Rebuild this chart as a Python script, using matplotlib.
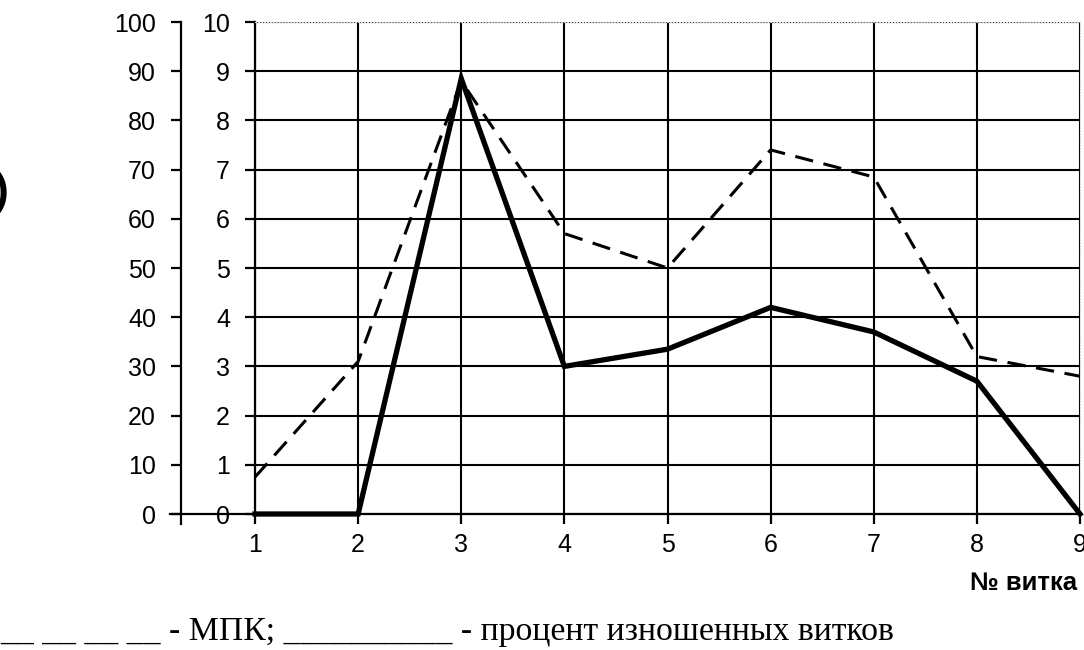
import matplotlib
matplotlib.use("Agg")
import matplotlib.pyplot as plt

coil = [1, 2, 3, 4, 5, 6, 7, 8, 9]
mpk = [0.75, 3.1, 8.8, 5.7, 5.0, 7.4, 6.85, 3.2, 2.8]
worn_pct = [0, 0, 88.5, 30, 33.5, 42, 37, 27, 0]
inner_ticks = list(range(0, 11))
outer_ticks = list(range(0, 101, 10))
xlabel = "№ витка"
legend_text = "__ __ __ __ - МПК; __________ - процент изношенных витков"

W, H = 1084, 650
PX = 72 / 100  # points per pixel
fig = plt.figure(figsize=(W / 100, H / 100), dpi=100)
L, R, T, B = 255, 1080, 22, 514
ax = fig.add_axes([L / W, 1 - B / H, (R - L) / W, (B - T) / H])

sans = "Liberation Sans"
ax.set_xlim(1, 9)
ax.set_ylim(0, 10)
ax.set_xticks(coil)
ax.set_yticks(inner_ticks)
ax.tick_params(axis="both", direction="out", length=10 * PX, width=1.6, colors="black",
               labelsize=18, pad=9 * PX)
ax.tick_params(axis="y", pad=15 * PX)
for lab in ax.get_xticklabels() + ax.get_yticklabels():
    lab.set_fontfamily(sans)

# grid
ax.grid(True, color="black", linewidth=1.5)
ax.set_axisbelow(True)
for s in ["top", "right"]:
    ax.spines[s].set_color("#d8d8d8")
    ax.spines[s].set_linestyle(":")
    ax.spines[s].set_linewidth(0.8)
for s in ["left", "bottom"]:
    ax.spines[s].set_linewidth(1.6)

# outer axis (percent)
ax2 = ax.twinx()
ax2.set_ylim(0, 100)
ax2.set_yticks(outer_ticks)
ax2.yaxis.set_ticks_position("left")
ax2.yaxis.set_label_position("left")
ax2.spines["left"].set_position(("outward", (L - 181) * PX))
ax2.spines["left"].set_linewidth(1.6)
for s in ["top", "right", "bottom"]:
    ax2.spines[s].set_visible(False)
ax2.tick_params(axis="y", direction="out", length=10 * PX, width=1.6, labelsize=18,
                pad=15 * PX)
for lab in ax2.get_yticklabels():
    lab.set_fontfamily(sans)

# bottom line extension to the outer axis
fig.add_artist(plt.Line2D([170 / W, L / W], [1 - B / H, 1 - B / H], color="black", lw=1.6,
                          transform=fig.transFigure))
fig.add_artist(plt.Line2D([181 / W, 181 / W], [1 - B / H, 1 - 524 / H], color="black", lw=1.6,
                          transform=fig.transFigure))

# data
l1, = ax.plot(coil, mpk, color="black", lw=2.2, clip_on=False)
l1.set_dashes([6, 3.5])
ax2.plot(coil, worn_pct, color="black", lw=3.8, clip_on=False, solid_joinstyle="miter")

fig.text(1077 / W, 1 - 583 / H, xlabel, ha="right", va="center", fontsize=18.5,
         fontweight="bold", family=sans)
fig.text(0, 1 - 640 / H, legend_text, ha="left", va="baseline", fontsize=24.3,
         family="Liberation Serif")
fig.text(9 / W, 1 - 193 / H, ")", ha="right", va="center", fontsize=32,
         fontweight="bold", family="Liberation Sans")

fig.savefig("out.png", dpi=100)
